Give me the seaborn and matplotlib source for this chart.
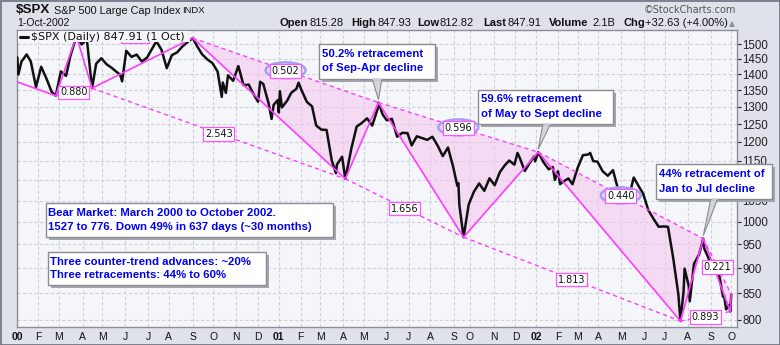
import numpy as np
import pandas as pd
import matplotlib
matplotlib.use("Agg")
import matplotlib.pyplot as plt
import seaborn as sns
from matplotlib.patches import Rectangle, Ellipse, Polygon

# ---------------- data ----------------
dates = [
 "2000-01-03","2000-01-04","2000-01-07","2000-01-14","2000-01-21","2000-01-28","2000-02-04","2000-02-11",
 "2000-02-18","2000-02-25","2000-03-03","2000-03-10","2000-03-16","2000-03-24","2000-03-31","2000-04-07",
 "2000-04-14","2000-04-20","2000-04-28","2000-05-05","2000-05-12","2000-05-19","2000-05-24","2000-05-26",
 "2000-06-02","2000-06-09","2000-06-16","2000-06-23","2000-06-30","2000-07-07","2000-07-14","2000-07-21",
 "2000-07-28","2000-08-04","2000-08-11","2000-08-18","2000-08-25","2000-09-01","2000-09-08","2000-09-15",
 "2000-09-22","2000-09-29","2000-10-06","2000-10-12","2000-10-13","2000-10-18","2000-10-20","2000-10-27",
 "2000-11-03","2000-11-10","2000-11-17","2000-11-24","2000-12-01","2000-12-05","2000-12-08","2000-12-15",
 "2000-12-20","2000-12-22","2000-12-29",
 "2001-01-02","2001-01-03","2001-01-05","2001-01-12","2001-01-19","2001-01-26","2001-01-30","2001-02-02",
 "2001-02-09","2001-02-16","2001-02-23","2001-03-02","2001-03-09","2001-03-16","2001-03-22","2001-03-23",
 "2001-03-30","2001-04-04","2001-04-06","2001-04-12","2001-04-20","2001-04-27","2001-05-04","2001-05-11",
 "2001-05-18","2001-05-21","2001-05-25","2001-06-01","2001-06-08","2001-06-15","2001-06-22","2001-06-29",
 "2001-07-06","2001-07-13","2001-07-20","2001-07-27","2001-08-03","2001-08-10","2001-08-17","2001-08-24",
 "2001-08-31","2001-09-07","2001-09-10","2001-09-17","2001-09-21","2001-09-28","2001-10-05","2001-10-12",
 "2001-10-19","2001-10-26","2001-11-02","2001-11-09","2001-11-16","2001-11-23","2001-11-30","2001-12-05",
 "2001-12-07","2001-12-14","2001-12-21","2001-12-28","2001-12-31",
 "2002-01-04","2002-01-11","2002-01-18","2002-01-25","2002-01-29","2002-02-01","2002-02-05","2002-02-08",
 "2002-02-15","2002-02-22","2002-03-01","2002-03-08","2002-03-15","2002-03-19","2002-03-22","2002-03-28",
 "2002-04-05","2002-04-12","2002-04-19","2002-04-26","2002-05-03","2002-05-07","2002-05-10","2002-05-17",
 "2002-05-24","2002-05-31","2002-06-07","2002-06-14","2002-06-21","2002-06-28","2002-07-05","2002-07-12",
 "2002-07-19","2002-07-23","2002-07-26","2002-07-29","2002-08-02","2002-08-05","2002-08-09","2002-08-16",
 "2002-08-22","2002-08-23","2002-08-30","2002-09-06","2002-09-13","2002-09-19","2002-09-20","2002-09-24",
 "2002-09-27","2002-09-30","2002-10-01",
]
closes = [
 1455.2,1399.4,1441.5,1465.2,1441.4,1360.2,1424.4,1387.1,
 1346.1,1333.4,1409.2,1395.1,1458.5,1527.5,1498.6,1516.4,
 1356.6,1434.5,1452.4,1432.6,1420.9,1406.9,1399.1,1378.0,
 1477.3,1456.9,1464.5,1441.5,1454.6,1478.9,1509.9,1480.2,
 1419.9,1462.9,1471.8,1491.7,1506.5,1520.8,1494.5,1465.8,
 1448.7,1436.5,1408.9,1329.8,1374.2,1342.1,1396.9,1379.6,
 1426.7,1365.9,1367.7,1341.8,1315.2,1376.5,1369.9,1312.2,
 1264.7,1305.9,1320.3,
 1283.3,1347.6,1298.4,1318.3,1342.5,1354.9,1373.7,1349.5,
 1314.8,1301.5,1245.9,1234.2,1233.4,1150.5,1117.6,1139.8,
 1160.3,1103.3,1128.4,1183.5,1243.0,1253.1,1266.6,1245.7,
 1292.0,1312.8,1277.9,1260.7,1265.0,1214.4,1225.4,1224.4,
 1190.6,1215.7,1210.9,1205.8,1214.4,1190.2,1162.0,1184.9,
 1133.6,1085.8,1092.5,1038.8,965.8,1040.9,1071.4,1091.7,
 1073.5,1104.6,1087.2,1120.3,1138.7,1150.3,1139.5,1170.4,
 1158.3,1123.1,1144.9,1161.0,1148.1,
 1172.5,1146.0,1127.6,1133.3,1100.6,1122.2,1090.0,1096.2,
 1104.2,1089.8,1131.8,1164.3,1166.2,1170.3,1148.7,1147.4,
 1122.7,1111.0,1125.2,1076.3,1073.4,1049.5,1055.0,1106.6,
 1083.8,1067.1,1027.5,1007.3,989.1,989.8,989.0,921.4,
 847.8,797.7,852.8,899.0,864.2,834.6,908.6,928.8,
 962.7,940.9,916.1,893.9,889.8,843.3,846.0,819.3,
 827.4,815.3,847.9,
]
holidays = [
 "2000-01-17","2000-02-21","2000-04-21","2000-05-29","2000-07-04","2000-09-04","2000-11-23","2000-12-25",
 "2001-01-01","2001-01-15","2001-02-19","2001-04-13","2001-05-28","2001-07-04","2001-09-03",
 "2001-09-11","2001-09-12","2001-09-13","2001-09-14","2001-11-22","2001-12-25",
 "2002-01-01","2002-01-21","2002-02-18","2002-03-29","2002-05-27","2002-07-04","2002-09-02",
]
# zigzag pivots (first entry = line entering from the left edge)
zig_dates = ["2000-01-03","2000-02-25","2000-03-24","2000-04-14","2000-09-01","2001-04-04","2001-05-21",
             "2001-09-21","2002-01-04","2002-07-23","2002-08-22","2002-09-30","2002-10-01"]
zig_values = [1376, 1333.4, 1527.5, 1356.6, 1520.8, 1103.3, 1312.8, 965.8, 1172.5, 797.7, 962.7, 815.3, 847.9]
shaded_triangles = [4, 6, 8, 10]      # pivot index of first vertex
circled_lines = [4, 6, 8]             # dashed lines whose ratio is circled
hidden_lines = [2]                    # ratio label lying under the legend
y_ticks = [800, 850, 900, 950, 1000, 1050, 1100, 1150, 1200, 1250, 1300, 1350, 1400, 1450, 1500]
covered_ticks = [1100]                # tick label hidden under the note box
month_labels = ["00","F","M","A","M","J","J","A","S","O","N","D",
                "01","F","M","A","M","J","J","A","S","O","N","D",
                "02","F","M","A","M","J","J","A","S","O"]
year_labels = ["00", "01", "02"]

# ---------------- style ----------------
sns.set_theme(style="white")
plt.rcParams["font.family"] = ["Liberation Sans", "DejaVu Sans"]

W, H = 780, 345
fig = plt.figure(figsize=(W / 100, H / 100), dpi=100)
fig.patch.set_facecolor("#dfe2ea")

start = "2000-01-03"
def tidx(d):
    return np.busday_count(start, np.array(d, dtype="datetime64[D]"), holidays=holidays)

xi = tidx(dates)
zx = tidx(zig_dates)
months = pd.date_range("2000-01-01", "2002-10-01", freq="MS").values.astype("datetime64[D]")
mpos = tidx(np.busday_offset(months, 0, roll="forward", holidays=holidays))

ax = fig.add_axes([17 / W, 1 - 327 / H, 720 / W, 297 / H])
ax.set_facecolor("#f5f6fa")
ax.set_yscale("log")
ax.set_xlim(-0.3, xi[-1] + 5.5)
ax.set_ylim(787, 1549)

sns.lineplot(x=xi, y=closes, ax=ax, color="#111111", linewidth=1.8, zorder=4)

# grid & ticks
ax.yaxis.set_major_locator(matplotlib.ticker.FixedLocator(y_ticks))
ax.yaxis.set_minor_locator(matplotlib.ticker.NullLocator())
ax.yaxis.set_major_formatter(matplotlib.ticker.FixedFormatter(
    ["" if v in covered_ticks else str(v) for v in y_ticks]))
ax.yaxis.tick_right()
ax.set_xticks(mpos)
ax.set_xticklabels(month_labels)
for t in ax.get_xticklabels():
    if t.get_text() in year_labels:
        t.set_fontweight("bold")
ax.tick_params(axis="x", length=0, pad=3.5, labelsize=7.5, colors="#111")
ax.tick_params(axis="y", which="major", length=3, width=0.8, pad=1, labelsize=8.3, colors="#222",
               direction="out", right=True, left=False)
ax.grid(True, color="#cfd0d8", linestyle=(0, (3, 2)), linewidth=0.8)
ax.set_xlabel("")
ax.set_ylabel("")
for s in ax.spines.values():
    s.set_color("#8a8e98")
    s.set_linewidth(1)

PINK = "#ff3cff"
# shaded retracement triangles
for i in shaded_triangles:
    ax.add_patch(Polygon(list(zip(zx[i:i + 3], zig_values[i:i + 3])), closed=True,
                         facecolor="#f4c4ee", alpha=0.55, edgecolor="none", zorder=1.5))
# zigzag
ax.plot(zx, zig_values, color=PINK, lw=1.2, zorder=5)
# ratio lines
ratio_lines = []
for i in range(1, len(zx) - 2):
    ax.plot([zx[i], zx[i + 2]], [zig_values[i], zig_values[i + 2]], color=PINK, lw=1.0,
            ls=(0, (3, 2.5)), zorder=5)
    r = abs(zig_values[i + 1] - zig_values[i + 2]) / abs(zig_values[i + 1] - zig_values[i])
    ratio_lines.append((i, r))

# ---------------- overlay (pixel coordinates) ----------------
ov = fig.add_axes([0, 0, 1, 1], zorder=10)
ov.set_xlim(0, W)
ov.set_ylim(H, 0)
ov.axis("off")
ov.patch.set_alpha(0)

def to_px(x, y):
    d = ax.transData.transform((x, y))
    return d[0], H - d[1]

for i, r in ratio_lines:
    x0, y0 = to_px(zx[i], zig_values[i])
    x1, y1 = to_px(zx[i + 2], zig_values[i + 2])
    mx, my = (x0 + x1) / 2, (y0 + y1) / 2
    if i in circled_lines:
        ov.add_patch(Ellipse((mx, my), 40, 16, facecolor=(0.86, 0.85, 0.97, 0.55),
                             edgecolor="#a2a2ee", lw=1.8, zorder=3))
    if i in hidden_lines:
        # only the lower edge of this label shows beneath the legend
        ov.add_patch(Rectangle((mx - 14, my - 5.5), 28, 11, fc="white", ec="#ff55ff", lw=0.9, zorder=4))
        continue
    ov.text(mx, my + 0.5, f"{r:.3f}", ha="center", va="center", fontsize=7, family="DejaVu Sans",
            color="#111", zorder=4,
            bbox=dict(boxstyle="square,pad=0.18", fc="white", ec="#ff55ff", lw=0.9))

# legend (covers the chart under it)
ov.add_patch(Rectangle((17.5, 30.5), 172, 11.2, fc="#f5f6fa", ec="none", zorder=6))
ov.plot([20, 28], [36.5, 36.5], color="#111", lw=2.2, zorder=7)
ov.text(31, 36.5, "$SPX (Daily) 847.91 (1 Oct)", fontsize=8, family="DejaVu Sans", va="center",
        ha="left", color="#111", zorder=7)

# header
ov.add_patch(Rectangle((0.5, 0.5), W - 1, H - 1, fill=False, ec="#6b7080", lw=1.2, zorder=1))
ov.text(16, 10, "$SPX", fontsize=9.6, fontweight="bold", va="center", ha="left", color="#111")
ov.text(54, 10.5, "S&P 500 Large Cap Index", fontsize=7.8, va="center", ha="left", color="#111")
ov.text(182, 10.5, "INDX", fontsize=6.8, va="center", ha="left", color="#111")
ov.text(17, 23.5, "1-Oct-2002", fontsize=7.6, va="center", ha="left", color="#111")
ov.text(736, 10, "\u00a9StockCharts.com", fontsize=7, family="DejaVu Sans", va="center", ha="right",
        color="#555")
hdr = [(280, "Open", True), (310, "815.28", False), (351, "High", True), (378, "847.93", False),
       (417, "Low", True), (440, "812.82", False), (483, "Last", True), (507, "847.91", False),
       (549, "Volume", True), (592, "2.1B", False), (623, "Chg", True), (645, "+32.63 (+4.00%)", False)]
for x, s, b in hdr:
    ov.text(x, 23.5, s, fontsize=8, fontweight="bold" if b else "normal", va="center", ha="left",
            color="#111")
ov.text(732, 23.5, "\u25b2", fontsize=5.5, family="DejaVu Sans", va="center", ha="center", color="#8a8e98")

# callout / note boxes
BLUE = "#0000f0"
def note(x0, y0, x1, y1, lines, ys, tx, pointer=None):
    ov.add_patch(Rectangle((x0 + 3, y0 + 3), x1 - x0, y1 - y0, fc="#a3a6ad", ec="none", zorder=8))
    if pointer is not None:
        (bx0, bx1, tip) = pointer
        ov.add_patch(Polygon([(bx0, y1 - 1), tip, (bx1, y1 - 1)], closed=True, fc="#d4d6dc",
                             ec="#8a8c92", lw=0.8, zorder=8.5))
    ov.add_patch(Rectangle((x0, y0), x1 - x0, y1 - y0, fc="white", ec="#8a8c92", lw=1, zorder=9))
    if pointer is not None:
        bx0, bx1, tip = pointer
        ov.plot([bx0 + 0.8, bx1 - 0.8], [y1, y1], color="#d4d6dc", lw=1.2, zorder=9.5)
    for s, y in zip(lines, ys):
        ov.text(tx, y, s, fontsize=8.2, fontweight="bold", color=BLUE, va="center", ha="left", zorder=10)

def tip_of(k):
    px, py = to_px(zx[k], zig_values[k])
    return (px, py - 3)

note(319, 44, 435, 79, ["50.2% retracement", "of Sep-Apr decline"], [54, 68], 322,
     pointer=(372, 382, tip_of(6)))
note(478, 90, 613, 124, ["59.6% retracement", "of May to Sept decline"], [99.5, 114], 481,
     pointer=(543, 551, tip_of(8)))
note(656, 164, 772, 199, ["44% retracement of", "Jan to Jul decline"], [174, 188.5], 659,
     pointer=(711, 718, tip_of(10)))
note(46, 203, 333, 237, ["Bear Market: March 2000 to October 2002.",
                         "1527 to 776. Down 49% in 637 days (~30 months)"], [213.5, 227], 48)
note(48, 252, 266, 285, ["Three counter-trend advances: ~20%", "Three retracements: 44% to 60%"],
     [262, 275.5], 50)

fig.savefig("out.png", dpi=100)
